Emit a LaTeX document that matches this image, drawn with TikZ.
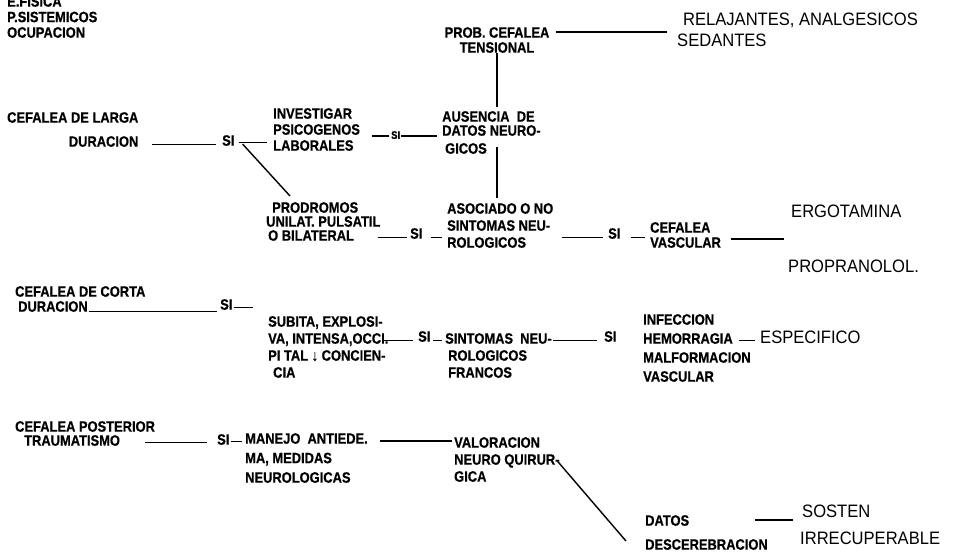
\documentclass[tikz,border=0pt]{standalone}
\usepackage{fontspec}
\setmainfont{Liberation Sans}
\newfontfamily\smf[FakeStretch=0.86, BoldFeatures={FakeBold=0.6}]{Liberation Sans}
\newfontfamily\bgf[FakeStretch=0.92]{Liberation Sans}
\newcommand\smp[1]{\smf\bfseries\fontsize{15}{#1}\selectfont}
\usetikzlibrary{calc}
\begin{document}
\begin{tikzpicture}[x=1pt,y=-1pt,
  lbl/.style={inner sep=0pt, anchor=north west, align=left, font=\smp{15}},
  big/.style={inner sep=0pt, anchor=north west, align=left, font=\bgf\fontsize{18}{21}\selectfont},
  si/.style={inner sep=0pt, anchor=north west, font=\smp{15}},
  conn/.style={line width=1.4pt}]
\fill[white] (0,0) rectangle (955,552);
\useasboundingbox (0,0) rectangle (955,552);

% ---------- top
\node[lbl, font=\smp{15.5}] (tl) at (7,-4) {E.FISICA\\P.SISTEMICOS\\OCUPACION};
\node[lbl, anchor=north, align=center] (prob) at (497,27) {PROB. CEFALEA\\TENSIONAL};
\node[big] (relax) at (677,13) {\hspace*{6pt}RELAJANTES, ANALGESICOS\\SEDANTES};

% ---------- cefalea de larga duracion
\node[lbl] (lgA) at (7,112) {CEFALEA DE LARGA};
\node[lbl, anchor=north east] (lgB) at ([yshift=-13pt]lgA.south east) {DURACION};
\node[si] (si1) at (222,135) {SI};
\node[lbl, font=\smp{16}] (inv) at (273,108) {INVESTIGAR\\PSICOGENOS\\LABORALES};
\node[si, font=\smf\bfseries\fontsize{11}{12}\selectfont] (si2) at (391,131) {SI};
\node[lbl, font=\smp{14}] (aus) at (442,111) {AUSENCIA\ \ DE\\DATOS NEURO-\\[4pt]\hspace*{3pt}GICOS};
\node[lbl, font=\smp{14}] (prod) at (266,202) {\hspace*{6pt}PRODROMOS\\UNILAT. PULSATIL\\\hspace*{2pt}O BILATERAL};
\node[si] (si3) at (410,228) {SI};
\node[lbl, font=\smp{17}] (asoc) at (447,203) {ASOCIADO O NO\\SINTOMAS NEU-\\ROLOGICOS};
\node[si] (si4) at (608,228) {SI};
\node[lbl, font=\smp{15}] (cefv) at (650,222) {CEFALEA\\VASCULAR};
\node[big] (ergo) at (791,205) {ERGOTAMINA};
\node[big] (prop) at (788,260) {PROPRANOLOL.};
\coordinate (drugs) at ($(ergo.west)!0.5!(prop.west)$);

% ---------- cefalea de corta duracion
\node[lbl] (coA) at (15,286) {CEFALEA DE CORTA};
\node[lbl] (coB) at (18,301) {DURACION};
\node[si] (si5) at (220,299) {SI};
\node[lbl, font=\smp{17}] (sub) at (268,316) {SUBITA, EXPLOSI-\\VA, INTENSA,OCCI.\\PI TAL ↓ CONCIEN-\\\hspace*{5pt}CIA};
\node[si] (si6) at (418,331) {SI};
\node[lbl, font=\smp{17}] (sint) at (445,333) {SINTOMAS\ \ NEU-\\\hspace*{3pt}ROLOGICOS\\\hspace*{3pt}FRANCOS};
\node[si] (si7) at (604,331) {SI};
\node[lbl, font=\smp{19}] (infe) at (643,314) {INFECCION\\HEMORRAGIA\\MALFORMACION\\VASCULAR};
\node[big] (esp) at (760,331) {ESPECIFICO};

% ---------- cefalea posterior traumatismo
\node[lbl] (poA) at (15,421) {CEFALEA POSTERIOR};
\node[lbl] (poB) at (24,435) {TRAUMATISMO};
\node[si] (si8) at (217,434) {SI};
\node[lbl, font=\smp{19.5}] (man) at (245,433) {MANEJO\ \ ANTIEDE.\\MA, MEDIDAS\\NEUROLOGICAS};
\node[lbl, font=\smp{17}] (val) at (454,437) {VALORACION\\NEURO QUIRUR-\\GICA};
\node[lbl, font=\smp{24}] (datos) at (645,515) {DATOS\\DESCEREBRACION};
\node[big] (sos) at (802,505) {SOSTEN};
\node[big] (irr) at (800,532) {IRRECUPERABLE};
\coordinate (sosirr) at ($(sos.west)!0.5!(irr.west)$);

% ---------- connectors: top
\coordinate (probR) at ([yshift=-5pt]prob.north east);
\draw[conn, shorten <=6pt, shorten >=10pt] (probR) -- (probR -| relax.west);
\draw[conn, shorten >=4pt] (prob.south) -- (prob.south |- aus.north);
\draw[conn, shorten >=5pt] ([yshift=7pt]prob.south |- aus.south) -- (prob.south |- asoc.north);

% larga
\draw[conn, shorten <=13pt, shorten >=6pt] ([yshift=-3pt]lgB.east) -- ([yshift=-3pt]lgB.east -| si1.west);
\draw[conn, shorten <=4pt, shorten >=6pt] ([yshift=-2pt]si1.east) -- ([yshift=-2pt]si1.east -| inv.west);
\draw[conn] ([xshift=8pt,yshift=2pt]si1.south east) -- ([xshift=24pt,yshift=6pt]prod.north west);
\draw[conn, shorten <=12pt, shorten >=2pt] ([yshift=-1pt]inv.east |- si2.west) -- ([yshift=-1pt]si2.west);
\draw[conn, shorten <=1pt, shorten >=5pt] ([yshift=-1pt]si2.east) -- ([yshift=-1pt]si2.east -| aus.west);
\draw[conn, shorten <=-3pt, shorten >=3pt] ([yshift=-4pt]prod.east |- si3.west) -- ([yshift=-4pt]si3.west);
\draw[conn, shorten <=8pt, shorten >=5pt] ([yshift=-4pt]si3.east) -- ([yshift=-4pt]si3.east -| asoc.west);
\draw[conn, shorten <=9pt, shorten >=5pt] ([yshift=-4pt]asoc.east |- si4.west) -- ([yshift=-4pt]si4.west);
\draw[conn, shorten <=10pt, shorten >=5pt] ([yshift=-4pt]si4.east) -- ([yshift=-4pt]si4.east -| cefv.west);
\draw[conn, shorten <=10pt, shorten >=6pt] (cefv.east |- drugs) -- (drugs);

% corta
\draw[conn, shorten <=1pt, shorten >=3pt] ([yshift=-5pt]coB.east) -- ([yshift=-5pt]coB.east -| si5.west);
\draw[conn, shorten <=1pt, shorten >=15pt] ([yshift=-3pt]si5.east) -- ([yshift=-3pt]si5.east -| sub.west);
\draw[conn, shorten <=-5pt, shorten >=5pt] ([yshift=-4pt]sub.east |- si6.west) -- ([yshift=-4pt]si6.west);
\draw[conn, shorten <=2pt, shorten >=3pt] ([yshift=-4pt]si6.east) -- ([yshift=-4pt]si6.east -| sint.west);
\draw[conn, shorten <=1pt, shorten >=7pt] ([yshift=-4pt]sint.east |- si7.west) -- ([yshift=-4pt]si7.west);
\draw[conn, shorten <=-12pt, shorten >=5pt] ([yshift=-3pt]infe.east |- esp.west) -- ([yshift=-3pt]esp.west);

% posterior
\draw[conn, shorten <=25pt, shorten >=10pt] ([yshift=-2pt]poB.east) -- ([yshift=-2pt]poB.east -| si8.west);
\draw[conn, shorten <=1pt, shorten >=3pt] ([yshift=-2pt]si8.east) -- ([yshift=-2pt]si8.east -| man.west);
\coordinate (manR) at ([yshift=-8pt]man.north east);
\draw[conn, shorten <=12pt, shorten >=2pt] (manR) -- (manR -| val.west);
\draw[conn] ([xshift=-2pt,yshift=-2pt]val.east) -- ([xshift=-19pt,yshift=9pt]datos.south west);
\coordinate (datR) at ([xshift=-13pt,yshift=-5pt]datos.north east);
\draw[conn, shorten >=8pt] (datR) -- (datR -| sosirr);
\end{tikzpicture}
\end{document}
